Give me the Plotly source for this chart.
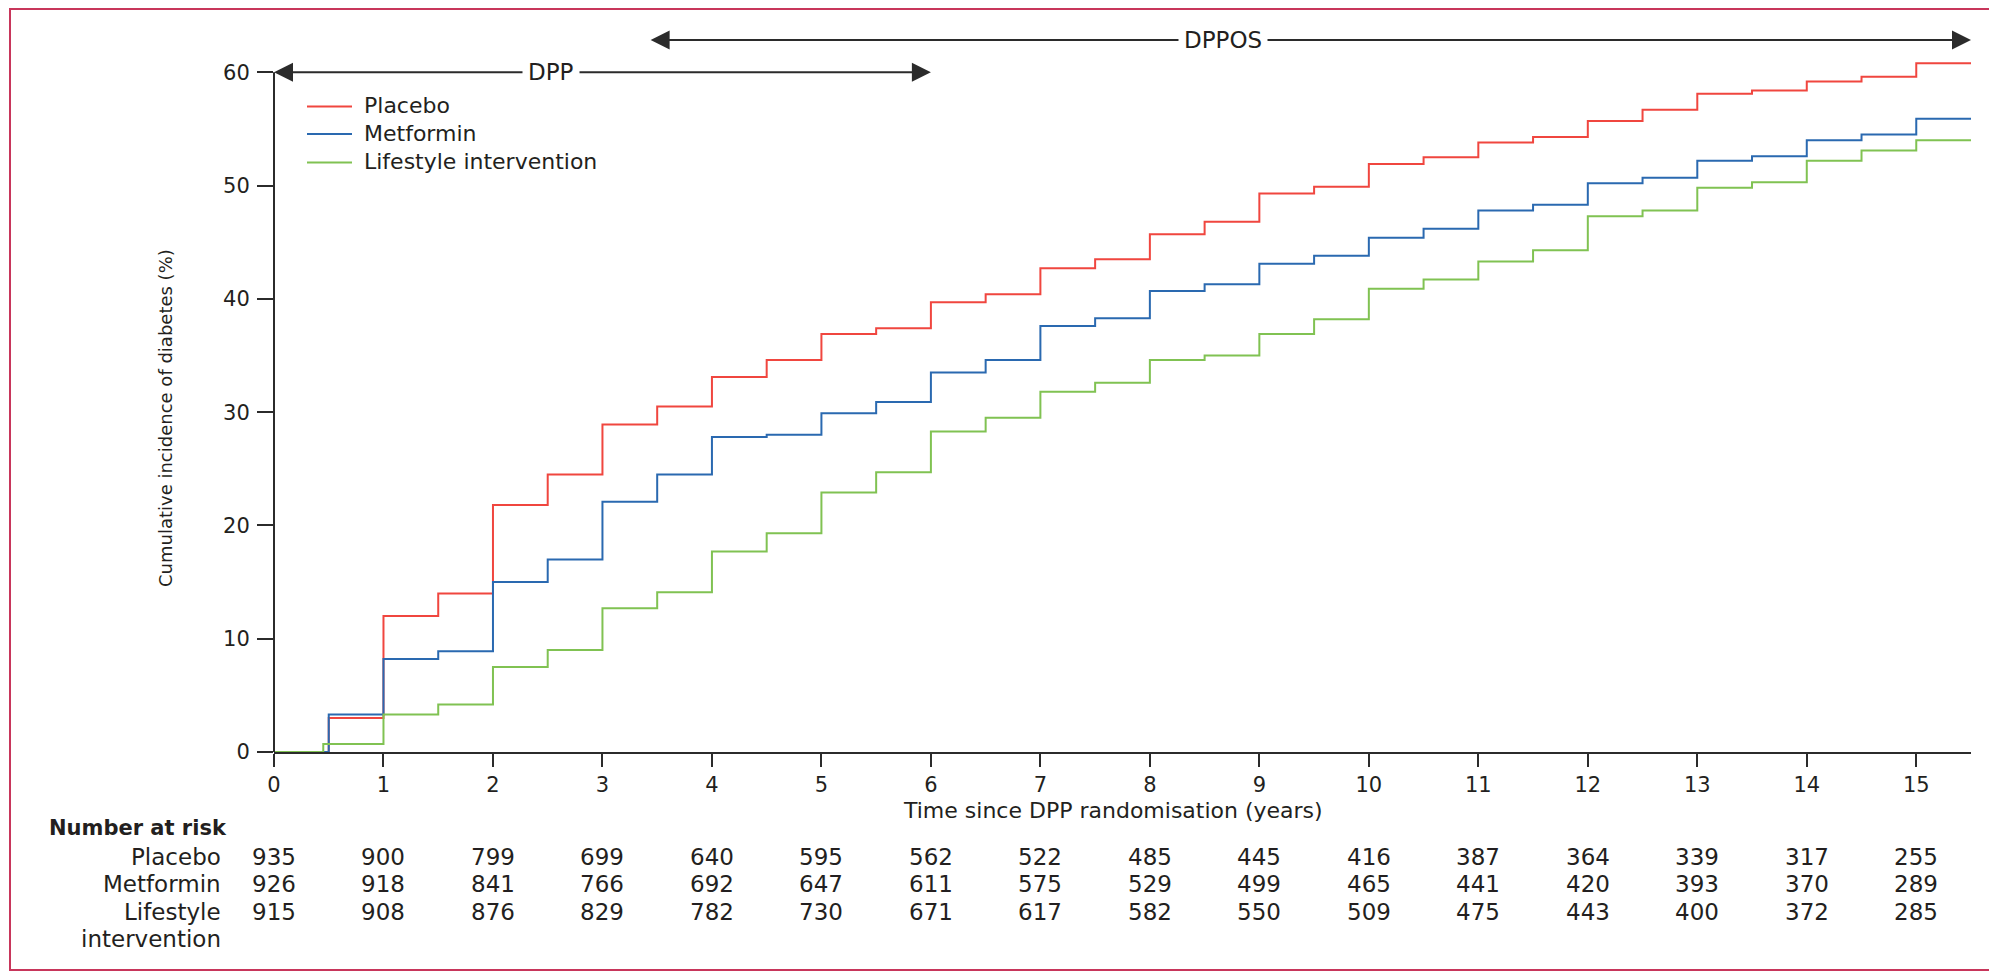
import plotly.graph_objects as go

# ---------------- data ----------------
step_times = [0, 0.5, 1, 1.5, 2, 2.5, 3, 3.5, 4, 4.5, 5, 5.5, 6, 6.5, 7, 7.5,
              8, 8.5, 9, 9.5, 10, 10.5, 11, 11.5, 12, 12.5, 13, 13.5, 14, 14.5, 15]
lifestyle_times = [0, 0.45] + step_times[2:]

placebo = [0, 3.0, 12.0, 14.0, 21.8, 24.5, 28.9, 30.5, 33.1, 34.6, 36.9, 37.4,
           39.7, 40.4, 42.7, 43.5, 45.7, 46.8, 49.3, 49.9, 51.9, 52.5, 53.8, 54.3,
           55.7, 56.7, 58.1, 58.4, 59.2, 59.6, 60.8]
metformin = [0, 3.3, 8.2, 8.9, 15.0, 17.0, 22.1, 24.5, 27.8, 28.0, 29.9, 30.9,
             33.5, 34.6, 37.6, 38.3, 40.7, 41.3, 43.1, 43.8, 45.4, 46.2, 47.8, 48.3,
             50.2, 50.7, 52.2, 52.6, 54.0, 54.5, 55.9]
lifestyle = [0, 0.7, 3.3, 4.2, 7.5, 9.0, 12.7, 14.1, 17.7, 19.3, 22.9, 24.7,
             28.3, 29.5, 31.8, 32.6, 34.6, 35.0, 36.9, 38.2, 40.9, 41.7, 43.3, 44.3,
             47.3, 47.8, 49.8, 50.3, 52.2, 53.1, 54.0]

series_names = ["Placebo", "Metformin", "Lifestyle intervention"]

risk_years = list(range(16))
risk_placebo = [935, 900, 799, 699, 640, 595, 562, 522, 485, 445, 416, 387, 364, 339, 317, 255]
risk_metformin = [926, 918, 841, 766, 692, 647, 611, 575, 529, 499, 465, 441, 420, 393, 370, 289]
risk_lifestyle = [915, 908, 876, 829, 782, 730, 671, 617, 582, 550, 509, 475, 443, 400, 372, 285]

y_ticks = [0, 10, 20, 30, 40, 50, 60]
x_ticks = list(range(16))

dpp_span = [0, 6]
dpp_label_x = 2.53
dppos_span = [3.44, 15.5]
dppos_label_x = 8.67

# ---------------- layout constants ----------------
OFF = 8                     # page body margin of the html page
W, H = 1989, 964
ML, MR, MT, MB = 266, 26, 19, 220
X_MAX = 15.5
Y_MAX = 64
Y_TOP = 60
DPP_Y = 60
DPPOS_Y = 62.85
PW = W - ML - MR
PH = H - MT - MB


def px(rx):
    """reference-screenshot x pixel -> paper x"""
    return (rx - OFF - ML) / PW


def py(ry):
    """reference-screenshot y pixel -> paper y"""
    return (H - MB - (ry - OFF)) / PH


INK = "#231f20"
AXIS = "#2b2b2b"
FONT = "DejaVu Sans, Verdana, sans-serif"
RED = "#f0463f"
BLUE = "#2a69b0"
GREEN = "#80c252"
COLORS = [RED, BLUE, GREEN]
FRAME = "#c8365b"

fig = go.Figure()


def ext(times, vals):
    return list(times) + [X_MAX], list(vals) + [vals[-1]]


for name, times, vals, col in zip(series_names,
                                  [step_times, step_times, lifestyle_times],
                                  [placebo, metformin, lifestyle], COLORS):
    xx, yy = ext(times, vals)
    fig.add_trace(go.Scatter(x=xx, y=yy, mode="lines", name=name, showlegend=False,
                             line=dict(color=col, width=2, shape="hv"),
                             hoverinfo="skip"))

shapes = []
# y axis line 0..60
shapes.append(dict(type="line", xref="paper", yref="paper", x0=0, x1=0,
                   y0=0, y1=Y_TOP / Y_MAX, line=dict(color=AXIS, width=2)))
# outer frame
shapes.append(dict(type="rect", xref="paper", yref="paper",
                   x0=px(10), x1=px(1995), y0=py(970), y1=py(9),
                   line=dict(color=FRAME, width=2), fillcolor="rgba(0,0,0,0)"))

annotations = []

# manual legend
legend_rows = [106.5, 134, 162.5]
for name, col, ry in zip(series_names, COLORS, legend_rows):
    shapes.append(dict(type="line", xref="paper", yref="paper",
                       x0=px(307), x1=px(352), y0=py(ry), y1=py(ry),
                       line=dict(color=col, width=2)))
    annotations.append(dict(x=px(362), y=py(ry - 1), xref="paper", yref="paper",
                            text=name, showarrow=False, xanchor="left", yanchor="middle",
                            font=dict(family=FONT, size=22, color=INK)))


def double_arrow(span, y, label_x, label):
    for tip in span:
        annotations.append(dict(x=tip, y=y, ax=label_x, ay=y, xref="x", yref="y",
                                axref="x", ayref="y", text="", showarrow=True,
                                arrowhead=2, arrowsize=1.9, arrowwidth=2,
                                arrowcolor=AXIS, standoff=0))
    annotations.append(dict(x=label_x, y=y, xref="x", yref="y", text=label,
                            showarrow=False, bgcolor="white", borderpad=5,
                            xanchor="center", yanchor="middle",
                            font=dict(family=FONT, size=23, color=INK)))


double_arrow(dpp_span, DPP_Y, dpp_label_x, "DPP")
double_arrow(dppos_span, DPPOS_Y, dppos_label_x, "DPPOS")

# axis titles
annotations.append(dict(x=px(1113), y=py(811), xref="paper", yref="paper",
                        text="Time since DPP randomisation (years)", showarrow=False,
                        xanchor="center", yanchor="middle",
                        font=dict(family=FONT, size=22, color=INK)))
annotations.append(dict(x=px(165), y=py(418), xref="paper", yref="paper",
                        text="Cumulative incidence of diabetes (%)", showarrow=False,
                        textangle=-90, xanchor="center", yanchor="middle",
                        font=dict(family=FONT, size=18, color=INK)))

# number at risk table
annotations.append(dict(x=px(47), y=py(828), xref="paper", yref="paper",
                        text="<b>Number at risk</b>", showarrow=False,
                        xanchor="left", yanchor="middle",
                        font=dict(family=FONT, size=21, color=INK)))
rows = [("Placebo", risk_placebo, 857), ("Metformin", risk_metformin, 884),
        ("Lifestyle", risk_lifestyle, 912)]
for label, vals, ry in rows:
    annotations.append(dict(x=px(223), y=py(ry), xref="paper", yref="paper",
                            text=label, showarrow=False, xanchor="right", yanchor="middle",
                            font=dict(family=FONT, size=23, color=INK)))
    for yr, v in zip(risk_years, vals):
        annotations.append(dict(x=yr, y=py(ry), xref="x", yref="paper",
                                text=str(v), showarrow=False,
                                xanchor="center", yanchor="middle",
                                font=dict(family=FONT, size=23, color=INK)))
annotations.append(dict(x=px(223), y=py(939), xref="paper", yref="paper",
                        text="intervention", showarrow=False,
                        xanchor="right", yanchor="middle",
                        font=dict(family=FONT, size=23, color=INK)))

fig.update_layout(
    width=W, height=H,
    margin=dict(l=ML, r=MR, t=MT, b=MB),
    paper_bgcolor="white", plot_bgcolor="white",
    font=dict(family=FONT, color=INK, size=20),
    showlegend=False,
    xaxis=dict(range=[0, X_MAX], tickvals=x_ticks, ticktext=[str(t) for t in x_ticks],
               showgrid=False, zeroline=False, showline=True, linecolor=AXIS,
               linewidth=2, ticks="outside", ticklen=13, tickwidth=2, tickcolor=AXIS,
               tickfont=dict(family=FONT, size=21, color=INK)),
    yaxis=dict(range=[0, Y_MAX], tickvals=y_ticks, ticktext=[str(t) for t in y_ticks],
               showgrid=False, zeroline=False, showline=False,
               ticks="outside", ticklen=16, tickwidth=2, tickcolor=AXIS,
               ticklabelstandoff=3,
               tickfont=dict(family=FONT, size=21, color=INK)),
    shapes=shapes, annotations=annotations,
)

fig.write_html("out.html")
